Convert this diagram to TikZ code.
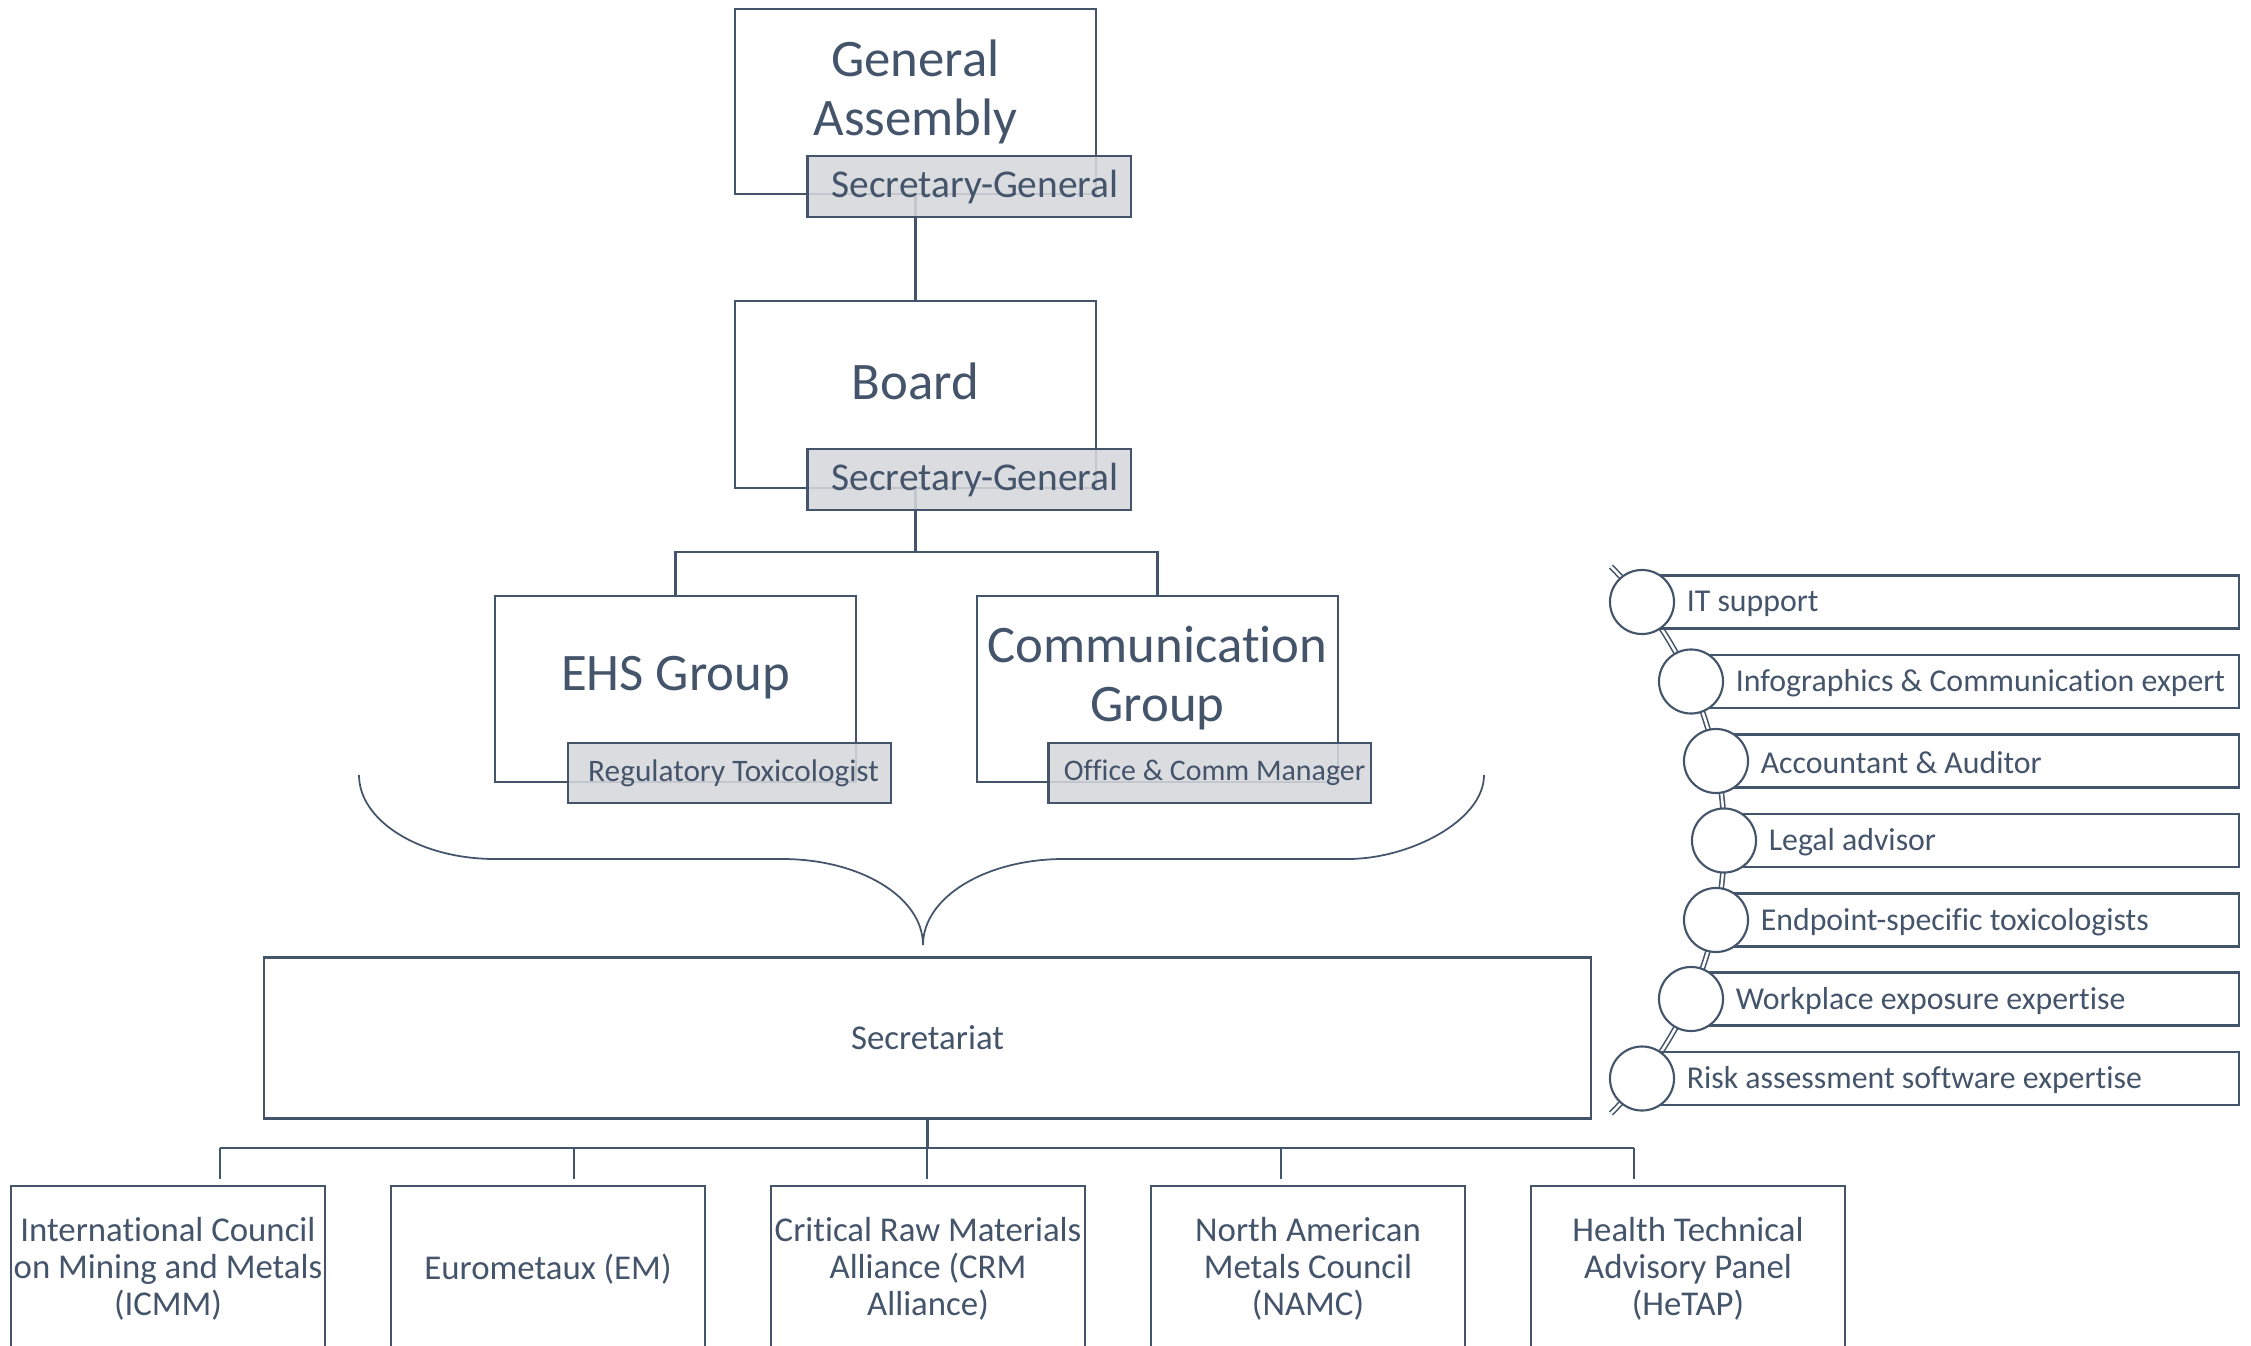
\documentclass[tikz,border=0pt]{standalone}
\usepackage{fontspec}
\setmainfont{Carlito}[Ligatures=NoCommon]
\usetikzlibrary{positioning,calc}
\definecolor{slate}{HTML}{44546A}
\definecolor{subgray}{HTML}{D5D7DB}

\begin{document}
\begin{tikzpicture}[x=0.01cm, y=-0.01cm,
  orgbox/.style={draw=slate, line width=0.6pt, minimum width=3.6cm, minimum height=1.86cm, inner sep=0pt},
  namebox/.style={draw=slate, line width=0.6pt, fill=subgray, fill opacity=0.88, text opacity=1, text=slate,
    minimum width=3.23cm, minimum height=0.61cm, inner sep=0pt, anchor=north west},
  bigtxt/.style={text=slate, align=center, font=\fontsize{15}{16.8}\selectfont},
  smalltxt/.style={text=slate, align=center, font=\fontsize{9.9}{10.6}\selectfont},
  link/.style={draw=slate, line width=0.6pt},
  listbox/.style={draw=slate, line width=0.6pt, minimum height=0.53cm, inner sep=0pt, anchor=west},
  dot/.style={draw=slate, line width=0.6pt, fill=white, circle, minimum size=0.64cm, inner sep=0pt},
  listtxt/.style={text=slate, anchor=west, inner sep=0pt, font=\fontsize{9.05}{11}\selectfont}]
  \useasboundingbox (0,0) rectangle (2251,1346);
  \clip (0,0) rectangle (2251,1346);

  % top of the tree
  \node[orgbox, minimum height=1.85cm] (ga) at (915.5,101.5) {};
  \node[orgbox, minimum height=1.87cm] (board) at (915.5,394.7) {};
  \draw[link] (ga.south) -- (board.north);

  \node[orgbox] (ehs) at (675.5,689) {};
  \node[orgbox] (comm) at (1157.5,689) {};
  \draw[link] (board.south) -- ++(0,63) -| (ehs.north);
  \draw[link] (board.south) -- ++(0,63) -| (comm.north);

  \node[namebox, font=\fontsize{11.2}{13}\selectfont] (gasg) at ([xshift=0.72cm, yshift=0.40cm]ga.south west) {\hspace{0.12cm}Secretary-General};
  \node[namebox, font=\fontsize{11.2}{13}\selectfont] (boardsg) at ([xshift=0.72cm, yshift=0.41cm]board.south west) {\hspace{0.12cm}Secretary-General};
  \node[namebox, minimum width=3.22cm, minimum height=0.6cm, font=\fontsize{8.9}{10}\selectfont] (ehstox) at ([xshift=0.73cm, yshift=0.41cm]ehs.south west) {\hspace{0.08cm}Regulatory Toxicologist};
  \node[namebox, minimum width=3.22cm, minimum height=0.6cm, font=\fontsize{8.5}{10}\selectfont] (commmgr) at ([xshift=0.71cm, yshift=0.41cm]comm.south west) {\hspace{0.1cm}Office \& Comm Manager};

  \node[bigtxt] (gatxt) at ([yshift=0.10cm]ga.center) {General\\Assembly};
  \node[bigtxt] (boardtxt) at ([yshift=0.13cm]board.center) {Board};
  \node[bigtxt] (ehstxt) at ([yshift=0.11cm]ehs.center) {EHS Group};
  \node[bigtxt] (commtxt) at ([yshift=0.11cm]comm.center) {Communication\\Group};

  % brace
  \draw[slate, line width=0.5pt] (359,775) .. controls (359,821) and (420,859) .. (495,859) -- (782,859)
    .. controls (860,859) and (923,897) .. (923,945)
    .. controls (923,897) and (986,859) .. (1064,859) -- (1348,859)
    .. controls (1409,859) and (1484,821) .. (1484,775);

  % secretariat and members
  \node[orgbox, minimum width=13.27cm, minimum height=1.61cm, smalltxt] (secr) at (927.5,1038) {Secretariat};

  \node[orgbox, minimum width=3.14cm, minimum height=1.66cm, smalltxt] (icmm) at (168,1269) {International Council\\on Mining and Metals\\(ICMM)};
  \node[orgbox, minimum width=3.14cm, minimum height=1.66cm, smalltxt] (em) at (548,1269) {Eurometaux (EM)};
  \node[orgbox, minimum width=3.14cm, minimum height=1.66cm, smalltxt] (crm) at (928,1269) {Critical Raw Materials\\Alliance (CRM\\Alliance)};
  \node[orgbox, minimum width=3.14cm, minimum height=1.66cm, smalltxt] (namc) at (1308,1269) {North American\\Metals Council\\(NAMC)};
  \node[orgbox, minimum width=3.14cm, minimum height=1.66cm, smalltxt] (hetap) at (1688,1269) {Health Technical\\Advisory Panel\\(HeTAP)};

  \foreach \dx/\bx [count=\i] in {220/icmm, 574/em, 927/crm, 1281/namc, 1634/hetap} {
    \coordinate (drop\i) at (\dx,1148);
    \draw[link, shorten >=0.06cm] (drop\i) -- (drop\i |- \bx.north);
  }
  \draw[link] (secr.south) -- (secr.south |- drop1);
  \draw[link] (drop1) -- (drop5);

  % experts list
  \coordinate (arcc) at (1337.6,840);
  \draw[slate, line width=0.45pt, double=white, double distance=0.7pt]
    ([shift={(45:3.864cm)}]arcc) arc[start angle=45, end angle=-45, radius=3.864cm];

  \foreach \cx/\cy/\txt [count=\i] in {1642/602/IT support,
      1691/681.5/Infographics \& Communication expert,
      1716/761/Accountant \& Auditor,
      1724/840.5/Legal advisor,
      1716/920/Endpoint-specific toxicologists,
      1691/999/Workplace exposure expertise,
      1642/1078.5/Risk assessment software expertise} {
    \node[listbox, minimum width={(2238-\cx)*0.01cm}] (box\i) at (\cx,\cy) {};
    \node[dot] (dot\i) at (\cx,\cy) {};
    \node[listtxt] (lbl\i) at ([xshift=0.11cm, yshift=-0.02cm]dot\i.east) {\txt};
  }
\end{tikzpicture}
\end{document}
